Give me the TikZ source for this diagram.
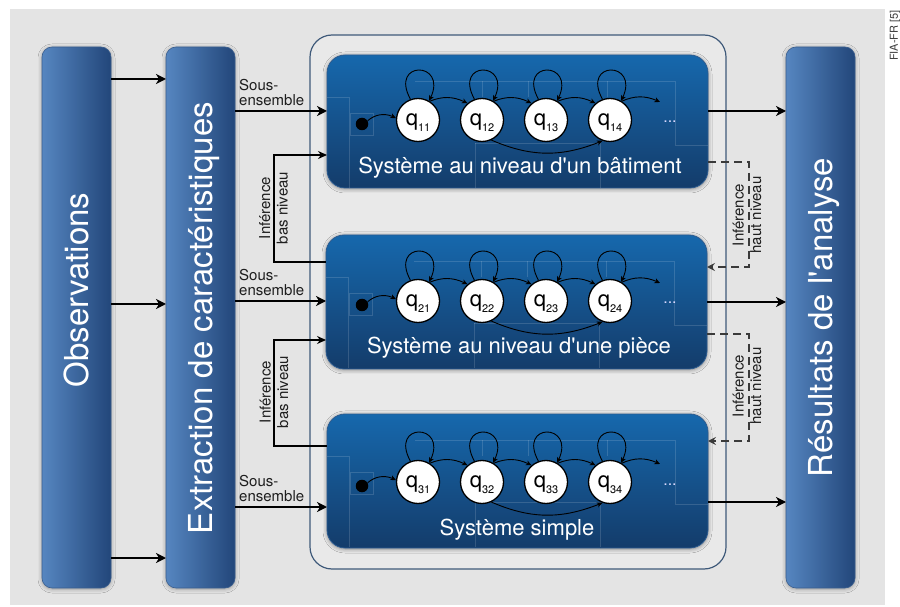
\documentclass[tikz,border=0pt]{standalone}
\usepackage{fontspec}
\setmainfont{TeX Gyre Heros}
\newfontfamily\herosplain{TeX Gyre Heros}
\usetikzlibrary{arrows.meta,shadows.blur,bending}
\definecolor{bg}{HTML}{E4E4E4}
\definecolor{contfill}{HTML}{E9E9E9}
\definecolor{barL}{HTML}{5686C0}
\definecolor{barR}{HTML}{22467A}
\definecolor{barline}{HTML}{3A5E8E}
\definecolor{boxT}{HTML}{1668AD}
\definecolor{boxB}{HTML}{143C6A}
\definecolor{boxline}{HTML}{2C5B90}
\definecolor{contline}{HTML}{3F5A7A}
\definecolor{dashgray}{HTML}{3A3A3A}
\definecolor{txt}{HTML}{1E1E1E}
\begin{document}
\begin{tikzpicture}[x=1pt,y=1pt,
  bar/.style={rectangle, rounded corners=10pt, draw=barline, line width=0.6pt,
    left color=barL, right color=barR, minimum width=69pt, minimum height=541pt,
    inner sep=0pt, outer sep=0pt,
    blur shadow={shadow xshift=0pt, shadow yshift=-1pt, shadow blur radius=4pt, shadow opacity=35}},
  bartext/.style={rotate=90, text=white, font=\herosplain\fontsize{33}{36}\selectfont,
    text height=23.8pt, text depth=0pt, inner sep=0pt},
  sysbox/.style={rectangle, rounded corners=18pt, draw=boxline, line width=0.8pt,
    top color=boxT, bottom color=boxB, minimum width=381pt, inner sep=0pt, outer sep=0pt,
    blur shadow={shadow xshift=0pt, shadow yshift=-1pt, shadow blur radius=4pt, shadow opacity=45}},
  systitle/.style={text=white, font=\herosplain\fontsize{22}{24}\selectfont,
    text height=15.8pt, text depth=0pt, inner sep=0pt},
  state/.style={circle, draw=black, line width=1.3pt, fill=white, minimum size=43pt,
    inner sep=0pt, text height=11.5pt, text depth=0pt, font=\fontsize{22}{22}\selectfont},
  startdot/.style={circle, fill=black, minimum size=12.5pt, inner sep=0pt},
  dotsnode/.style={anchor=base, text=white!85!blue, font=\fontsize{16}{16}\selectfont, inner sep=0pt},
  tr/.style={line width=0.9pt, -{Stealth[length=5.5pt,width=5pt,inset=1.5pt]}},
  bigarr/.style={line width=2.6pt, -{Stealth[length=10pt,width=10pt,inset=3pt]}},
  infarr/.style={line width=2pt, -{Stealth[length=9pt,width=8pt,inset=3pt]}},
  hiarr/.style={line width=2pt, draw=dashgray, dash pattern=on 8pt off 5pt,
    -{Stealth[length=8pt,width=8pt,inset=3pt]}},
  inflabel/.style={rotate=90, align=center, text=txt, font=\fontsize{15}{17.5}\selectfont, inner sep=0pt},
  sous/.style={anchor=south west, align=left, text=txt, font=\fontsize{15}{15}\selectfont, inner sep=0pt},
  faint/.style={draw=white, opacity=0.14, line width=0.6pt}
]
\useasboundingbox (0,0) rectangle (900,606);
\fill[white] (0,0) rectangle (900,606);
\fill[bg] (10,1) rectangle (885,597);

% side bars
\node[bar] (obs) at (76.5,288.5) {};
\node[bar] (ext) at (200.5,288.5) {};
\node[bar] (res) at (820.5,288.5) {};
\node[bartext] (obst) at (76.5,316) {Observations};
\node[bartext] (extt) at (200.5,288) {Extraction de caractéristiques};
\node[bartext] (rest) at (820.5,288.5) {Résultats de l'analyse};

% container
\node[draw=contline, line width=1.2pt, rounded corners=22pt, fill=contfill,
  minimum width=416pt, minimum height=534pt, inner sep=0pt, outer sep=0pt] (cont) at (518,304) {};

% system boxes
\node[sysbox, minimum height=133pt] (b1) at (517.5,484.5) {};
\node[sysbox, minimum height=134pt] (b2) at (516.5,304) {};
\node[sysbox, minimum height=134pt] (b3) at (517.5,125) {};

% faint circuit lines
\foreach \b in {b1,b2,b3}{
  \draw[faint] ([shift={(88,-26)}]\b.north west) -- ++(260,0) -- ++(0,-64) -- ++(33,0);
  \draw[faint] ([shift={(0,-42)}]\b.north west) -- ++(22,0) -- ++(0,-91);
  \draw[faint] ([shift={(23,-58)}]\b.north west) rectangle ++(23,-22);
  \draw[faint] ([shift={(148,-88)}]\b.north west) -- ++(0,-45);
  \draw[faint] ([shift={(148,-88)}]\b.north west) -- ++(125,0) -- ++(0,-45);
  \draw[faint] ([shift={(201,-26)}]\b.north west) -- ++(0,-16);
  \draw[faint] ([shift={(155,-26)}]\b.north west) -- ++(0,-16);
  \draw[faint] ([shift={(280,-26)}]\b.north west) -- ++(0,-16);
}

% titles
\node[systitle] (t1) at (520,440.5) {Système au niveau d'un bâtiment};
\node[systitle] (t2) at (519,260) {Système au niveau d'une pièce};
\node[systitle] (t3) at (517,78) {Système simple};

% state machines
\foreach \r/\Y in {1/486,2/305,3/124}{
  \foreach \c/\x in {1/418,2/482,3/546,4/610}{
    \node[state] (q\r\c) at (\x,\Y) {q\raisebox{-5.5pt}{\fontsize{11}{11}\selectfont\r\c}};
    \draw[tr] (q\r\c.110) .. controls +(-22,40) and +(22,40) .. (q\r\c.60);
  }
  \node[startdot] (d\r) at (362,\Y-4) {};
  \node[dotsnode] (e\r) at (670,\Y-3) {...};
  \coordinate (end\r) at (660,\Y+18);
  \draw[tr] (d\r.30) to[bend left=35] (q\r1.175);
  \draw[tr] (q\r1.58) to[bend left=25] (q\r2.131);
  \draw[tr] (q\r2.58) to[bend left=25] (q\r3.131);
  \draw[tr] (q\r3.58) to[bend left=25] (q\r4.131);
  \draw[tr] (q\r4.58) to[bend left=25] (end\r);
  \draw[tr] (q\r2.-65) to[bend right=23] (q\r4.-110);
}

% main flow arrows
\draw[bigarr] (obs.east |- 0,527) -- (ext.west |- 0,527);
\draw[bigarr] (obs.east |- 0,302) -- (ext.west |- 0,302);
\draw[bigarr] (obs.east |- 0,48) -- (ext.west |- 0,48);
\draw[bigarr] (ext.east |- 0,495) -- (b1.west |- 0,495);
\draw[bigarr] (ext.east |- 0,305) -- (b2.west |- 0,305);
\draw[bigarr] (ext.east |- 0,99) -- (b3.west |- 0,99);
\draw[bigarr] (b1.east |- 0,495) -- (res.west |- 0,495);
\draw[bigarr] (b2.east |- 0,304) -- (res.west |- 0,304);
\draw[bigarr] (b3.east |- 0,104) -- (res.west |- 0,104);

\node[sous] (s1) at (239,500) {Sous-\\ensemble};
\node[sous] (s2) at (239,310) {Sous-\\ensemble};
\node[sous] (s3) at (239,104) {Sous-\\ensemble};

% low level inference
\draw[infarr] (b2.west |- 0,344) -- ++(-52,0) |- (b1.west |- 0,451);
\draw[infarr] (b3.west |- 0,160) -- ++(-53,0) |- (b2.west |- 0,266);
\node[inflabel] (li1) at (273.5,398) {Inférence\\bas niveau};
\node[inflabel] (li2) at (274,214) {Inférence\\bas niveau};

% high level inference
\draw[hiarr] (b1.east |- 0,444) -- ++(41,0) |- (b2.east |- 0,339);
\draw[hiarr] (b2.east |- 0,272) -- ++(42,0) |- (b3.east |- 0,165);
\node[inflabel] (lh1) at (747,391) {Inférence\\haut niveau};
\node[inflabel] (lh2) at (747,220) {Inférence\\haut niveau};

% source
\node[rotate=90, anchor=east, font=\fontsize{11}{11}\selectfont, text=txt!85, inner sep=0pt] (src) at (895,596) {FIA-FR [5]};
\end{tikzpicture}
\end{document}
